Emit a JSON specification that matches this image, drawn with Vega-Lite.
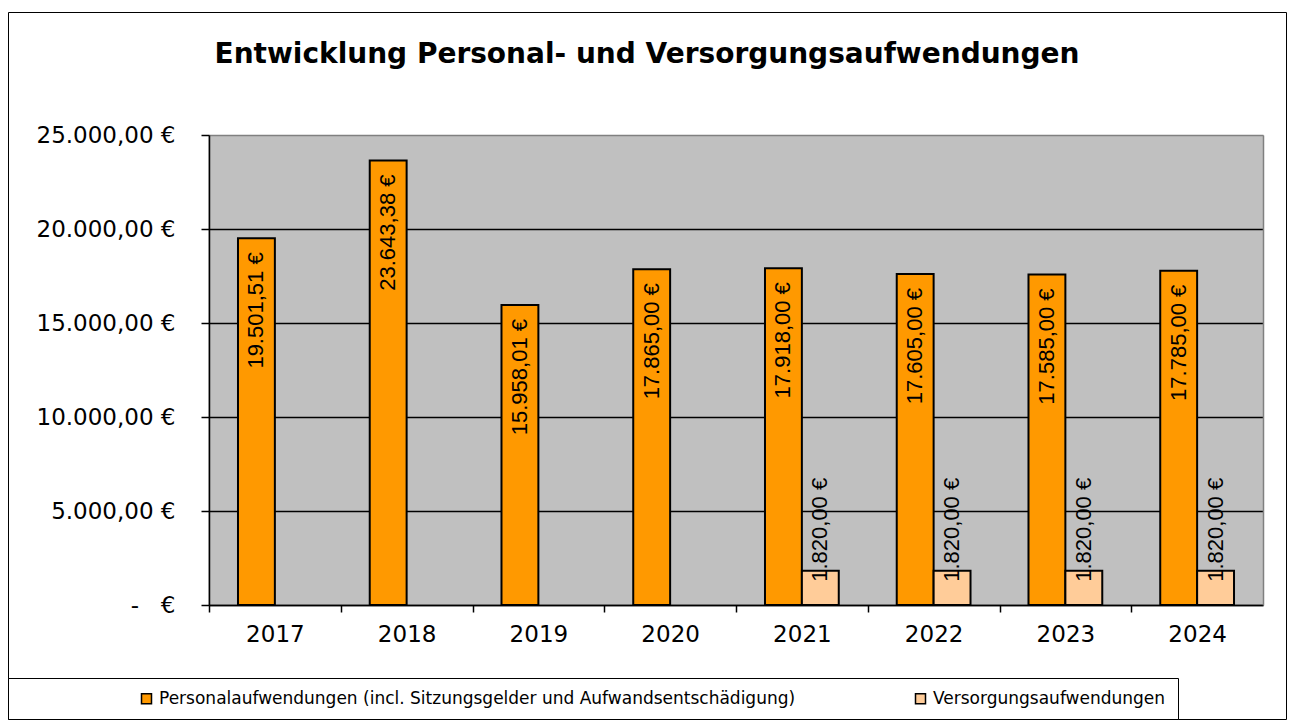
{
  "$schema": "https://vega.github.io/schema/vega-lite/v6.json",
  "width": 1278,
  "height": 707,
  "autosize": {"type": "none"},
  "padding": {"left": 8, "top": 12, "right": 3, "bottom": 3},
  "background": "white",
  "title": {
    "text": "Entwicklung Personal- und Versorgungsaufwendungen",
    "font": "DejaVu Sans",
    "fontSize": 28,
    "fontWeight": "bold",
    "color": "black",
    "anchor": "middle",
    "baseline": "alphabetic",
    "offset": -79
  },
  "config": {
    "view": {"stroke": "black", "strokeWidth": 1, "fill": "white"},
    "locale": {
      "number": {
        "decimal": ",",
        "thousands": ".",
        "grouping": [3],
        "currency": ["", " €"]
      }
    }
  },
  "data": {
    "values": [
      {"year": "2017", "series": "Personalaufwendungen (incl. Sitzungsgelder und Aufwandsentschädigung)", "value": 19501.51},
      {"year": "2018", "series": "Personalaufwendungen (incl. Sitzungsgelder und Aufwandsentschädigung)", "value": 23643.38},
      {"year": "2019", "series": "Personalaufwendungen (incl. Sitzungsgelder und Aufwandsentschädigung)", "value": 15958.01},
      {"year": "2020", "series": "Personalaufwendungen (incl. Sitzungsgelder und Aufwandsentschädigung)", "value": 17865.00},
      {"year": "2021", "series": "Personalaufwendungen (incl. Sitzungsgelder und Aufwandsentschädigung)", "value": 17918.00},
      {"year": "2022", "series": "Personalaufwendungen (incl. Sitzungsgelder und Aufwandsentschädigung)", "value": 17605.00},
      {"year": "2023", "series": "Personalaufwendungen (incl. Sitzungsgelder und Aufwandsentschädigung)", "value": 17585.00},
      {"year": "2024", "series": "Personalaufwendungen (incl. Sitzungsgelder und Aufwandsentschädigung)", "value": 17785.00},
      {"year": "2021", "series": "Versorgungsaufwendungen", "value": 1820.00},
      {"year": "2022", "series": "Versorgungsaufwendungen", "value": 1820.00},
      {"year": "2023", "series": "Versorgungsaufwendungen", "value": 1820.00},
      {"year": "2024", "series": "Versorgungsaufwendungen", "value": 1820.00}
    ]
  },
  "resolve": {"axis": {"x": "independent", "y": "independent"}},
  "layer": [
    {
      "mark": {"type": "bar", "stroke": "black", "strokeWidth": 2},
      "encoding": {
        "x": {
          "field": "year",
          "type": "ordinal",
          "scale": {"type": "band", "range": [201, 1255], "paddingInner": 0.44, "paddingOuter": 0.22},
          "axis": {
            "orient": "top",
            "offset": 0,
            "grid": true,
            "gridColor": "#C0C0C0",
            "gridWidth": 133,
            "gridOpacity": 1,
            "labels": false,
            "ticks": false,
            "domain": false,
            "title": null,
            "zindex": 0
          }
        },
        "xOffset": {
          "field": "series",
          "type": "nominal",
          "scale": {
            "domain": ["Personalaufwendungen (incl. Sitzungsgelder und Aufwandsentschädigung)", "Versorgungsaufwendungen"],
            "paddingInner": 0,
            "paddingOuter": 0
          }
        },
        "y": {
          "field": "value",
          "type": "quantitative",
          "scale": {"domain": [0, 25000], "nice": false, "range": [593, 123]},
          "axis": {
            "orient": "left",
            "offset": -201,
            "values": [0, 5000, 10000, 15000, 20000, 25000],
            "format": "$,.2f",
            "labelExpr": "datum.value == 0 ? '-\u00a0\u00a0\u00a0€' : datum.label",
            "grid": true,
            "gridColor": {"condition": {"test": "datum.value >= 25000", "value": "#808080"}, "value": "black"},
            "gridOpacity": 1,
            "gridWidth": 1.5,
            "domain": true,
            "domainColor": "black",
            "domainWidth": 1.5,
            "ticks": true,
            "tickColor": "black",
            "tickWidth": 1.5,
            "tickSize": 8,
            "labelFont": "DejaVu Sans",
            "labelFontSize": 23,
            "labelColor": "black",
            "labelPadding": 26,
            "title": null,
            "zindex": 0
          }
        },
        "color": {
          "field": "series",
          "type": "nominal",
          "scale": {
            "domain": ["Personalaufwendungen (incl. Sitzungsgelder und Aufwandsentschädigung)", "Versorgungsaufwendungen"],
            "range": ["#FF9900", "#FFCC99"]
          },
          "legend": {
            "orient": "bottom-left",
            "offset": 0,
            "direction": "horizontal",
            "padding": 12,
            "fillColor": "white",
            "strokeColor": "black",
            "cornerRadius": 0,
            "title": "\u00a0",
            "titleOrient": "left",
            "titleFont": "DejaVu Sans",
            "titleFontSize": 16,
            "titlePadding": 118,
            "columnPadding": 116,
            "labelFont": "DejaVu Sans",
            "labelFontSize": 17,
            "labelColor": "black",
            "labelLimit": 1500,
            "labelOffset": 4,
            "labelExpr": "datum.label == 'Versorgungsaufwendungen' ? datum.label + '\u00a0\u00a0\u00a0\u00a0\u00a0\u00a0\u00a0\u00a0\u00a0\u00a0\u00a0\u00a0\u00a0\u00a0\u00a0\u00a0\u00a0\u00a0\u00a0' : datum.label",
            "symbolType": "square",
            "symbolSize": 100,
            "symbolStrokeColor": "black",
            "symbolStrokeWidth": 1.5
          }
        }
      }
    },
    {
      "transform": [{"filter": "datum.series != 'Versorgungsaufwendungen'"}],
      "mark": {
        "type": "text",
        "angle": 270,
        "align": "right",
        "baseline": "middle",
        "dx": -14,
        "font": "Liberation Sans",
        "fontSize": 22,
        "fill": "black"
      },
      "encoding": {
        "x": {
          "field": "year",
          "type": "ordinal",
          "axis": {
            "orient": "bottom",
            "offset": -114,
            "tickOffset": -65.875,
            "labelOffset": 65.875,
            "grid": false,
            "domain": true,
            "domainColor": "black",
            "domainWidth": 1.5,
            "ticks": true,
            "tickColor": "black",
            "tickWidth": 1.5,
            "tickSize": 7,
            "labels": true,
            "labelAngle": 0,
            "labelFont": "DejaVu Sans",
            "labelFontSize": 23,
            "labelColor": "black",
            "labelPadding": 11,
            "title": null,
            "zindex": 0
          }
        },
        "xOffset": {"field": "series", "type": "nominal"},
        "y": {
          "field": "value",
          "type": "quantitative",
          "axis": {
            "orient": "right",
            "offset": -23,
            "domain": true,
            "domainColor": "#808080",
            "domainWidth": 1.5,
            "labels": false,
            "ticks": false,
            "grid": false,
            "title": null
          }
        },
        "text": {"field": "value", "type": "quantitative", "format": "$,.2f"}
      }
    },
    {
      "transform": [{"filter": "datum.series == 'Versorgungsaufwendungen'"}],
      "mark": {
        "type": "text",
        "angle": 270,
        "align": "left",
        "baseline": "middle",
        "dx": -11,
        "font": "Liberation Sans",
        "fontSize": 22,
        "fill": "black"
      },
      "encoding": {
        "x": {"field": "year", "type": "ordinal", "axis": null},
        "xOffset": {"field": "series", "type": "nominal"},
        "y": {"field": "value", "type": "quantitative", "axis": null},
        "text": {"field": "value", "type": "quantitative", "format": "$,.2f"}
      }
    }
  ]
}
